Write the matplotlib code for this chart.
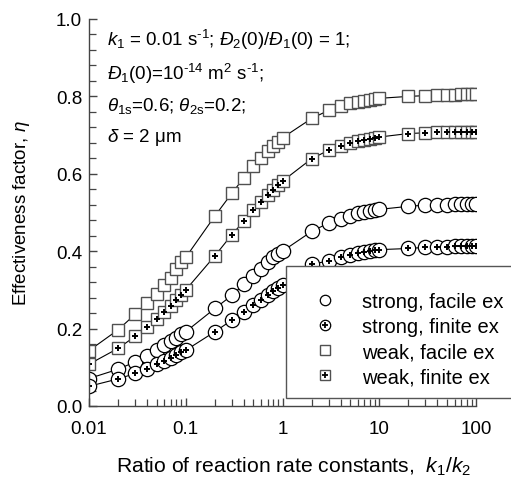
import matplotlib
matplotlib.use("Agg")
import matplotlib.pyplot as plt
from matplotlib.lines import Line2D
from matplotlib.patches import Rectangle
from matplotlib.ticker import MultipleLocator, NullFormatter, FormatStrFormatter

plt.rcParams['font.family'] = ['Liberation Sans', 'DejaVu Sans']
plt.rcParams['mathtext.fontset'] = 'custom'
plt.rcParams['mathtext.rm'] = 'Liberation Sans'
plt.rcParams['mathtext.it'] = 'Liberation Sans:italic'
plt.rcParams['mathtext.bf'] = 'Liberation Sans:bold'

# ratio k1/k2
ratio = [0.01, 0.02, 0.03, 0.04, 0.05, 0.06, 0.07, 0.08, 0.09,
         0.1, 0.2, 0.3, 0.4, 0.5, 0.6, 0.7, 0.8, 0.9,
         1, 2, 3, 4, 5, 6, 7, 8, 9,
         10, 20, 30, 40, 50, 60, 70, 80, 90, 100]

strong_facile = [0.071, 0.095, 0.114, 0.130, 0.145, 0.157, 0.168, 0.177, 0.185,
                 0.192, 0.252, 0.286, 0.315, 0.336, 0.355, 0.372, 0.385, 0.394,
                 0.400, 0.451, 0.473, 0.484, 0.492, 0.498, 0.502, 0.505, 0.507,
                 0.508, 0.516, 0.519, 0.520, 0.520, 0.521, 0.521, 0.521, 0.521,
                 0.521]

strong_finite = [0.051, 0.070, 0.084, 0.095, 0.108, 0.117, 0.125, 0.133, 0.139,
                 0.144, 0.192, 0.222, 0.244, 0.261, 0.275, 0.287, 0.297, 0.305,
                 0.312, 0.366, 0.375, 0.384, 0.391, 0.395, 0.399, 0.401, 0.403,
                 0.404, 0.407, 0.410, 0.411, 0.412, 0.413, 0.413, 0.414, 0.414,
                 0.414]

weak_facile = [0.143, 0.197, 0.237, 0.266, 0.289, 0.312, 0.332, 0.354, 0.371,
               0.384, 0.491, 0.550, 0.590, 0.620, 0.642, 0.659, 0.672, 0.683,
               0.693, 0.743, 0.764, 0.775, 0.782, 0.786, 0.789, 0.791, 0.793,
               0.795, 0.800, 0.802, 0.803, 0.804, 0.804, 0.805, 0.805, 0.805,
               0.805]

weak_finite = [0.108, 0.149, 0.180, 0.203, 0.225, 0.243, 0.258, 0.274, 0.288,
               0.300, 0.388, 0.443, 0.478, 0.507, 0.528, 0.545, 0.558, 0.570,
               0.581, 0.639, 0.661, 0.672, 0.679, 0.685, 0.688, 0.690, 0.692,
               0.695, 0.704, 0.706, 0.707, 0.707, 0.708, 0.708, 0.708, 0.708,
               0.708]

labels = ['strong, facile ex', 'strong, finite ex', 'weak, facile ex', 'weak, finite ex']

W, H = 511, 481
fig = plt.figure(figsize=(W / 100, H / 100), dpi=100)
L, R, B, T = 89, 476, 407, 20
ax = fig.add_axes([L / W, 1 - B / H, (R - L) / W, (B - T) / H])

sq_edge = '#505050'
lw = 0.8

ax.plot(ratio, weak_facile, color='black', lw=lw, marker='s', ms=9.2,
        mfc='white', mec=sq_edge, mew=1.0)
ax.plot(ratio, weak_finite, color='black', lw=lw, marker='s', ms=9.2,
        mfc='white', mec=sq_edge, mew=1.0)
ax.plot(ratio, weak_finite, ls='none', marker='+', ms=4.5, mec='black', mew=1.4)
ax.plot(ratio, strong_facile, color='black', lw=lw, marker='o', ms=10.3,
        mfc='white', mec='black', mew=0.9)
ax.plot(ratio, strong_finite, color='black', lw=lw, marker='o', ms=10.3,
        mfc='white', mec='black', mew=0.9)
ax.plot(ratio, strong_finite, ls='none', marker='+', ms=4.5, mec='black', mew=1.4)

ax.set_xscale('log')
ax.set_xlim(0.01, 100)
ax.set_ylim(0, 1.0)
ax.set_xticks([0.01, 0.1, 1, 10, 100])
ax.set_xticklabels(['0.01', '0.1', '1', '10', '100'])
ax.xaxis.set_minor_formatter(NullFormatter())
ax.yaxis.set_major_locator(MultipleLocator(0.2))
ax.yaxis.set_minor_locator(MultipleLocator(0.04))
ax.yaxis.set_major_formatter(FormatStrFormatter('%.1f'))

for s in ['top', 'right']:
    ax.spines[s].set_visible(False)
for s in ['left', 'bottom']:
    ax.spines[s].set_color('#444444')
    ax.spines[s].set_linewidth(1.0)

ax.tick_params(which='both', direction='in', color='#444444', labelsize=13.5)
ax.tick_params(which='major', length=6, width=1.0)
ax.tick_params(which='minor', length=5, width=0.9)
ax.tick_params(axis='x', pad=10)
ax.tick_params(axis='y', pad=5)

ax.set_xlabel('Ratio of reaction rate constants,  $k_1/k_2$', fontsize=15.2)
ax.xaxis.set_label_coords(0.53, -0.125)
ax.set_ylabel(r'Effectiveness factor, $\eta$', fontsize=13.5, labelpad=17)

def ay(py):
    return (B - py) / (B - T)

tx = (107 - L) / (R - L)
ax.text(tx, ay(40), r'$k_1$ = 0.01 s$^{\text{-}1}$; $Đ_2$(0)/$Đ_1$(0) = 1;',
        transform=ax.transAxes, va='center', ha='left', fontsize=13.5)
ax.text(tx, ay(74), r'$Đ_1$(0)=10$^{\text{-}14}$ m$^2$ s$^{\text{-}1}$;',
        transform=ax.transAxes, va='center', ha='left', fontsize=13.5)
ax.text(tx, ay(106), r'$\theta_{\mathrm{1s}}$=0.6; $\theta_{\mathrm{2s}}$=0.2;',
        transform=ax.transAxes, va='center', ha='left', fontsize=13.5)
ax.text(tx, ay(137), r'$\delta$ = 2 μm',
        transform=ax.transAxes, va='center', ha='left', fontsize=13.5)

# legend box extends past the figure edge
box = Rectangle((286 / W, 1 - 398.5 / H), (530 - 286) / W, (398.5 - 266.5) / H,
                transform=fig.transFigure, facecolor='white', edgecolor='#555555',
                lw=1.0, zorder=5)
fig.patches.append(box)

handles = [
    Line2D([], [], ls='none', marker='o', ms=7.5, mfc='white', mec='black', mew=0.9),
    (Line2D([], [], ls='none', marker='o', ms=7.5, mfc='white', mec='black', mew=0.9),
     Line2D([], [], ls='none', marker='+', ms=4, mec='black', mew=1.3)),
    Line2D([], [], ls='none', marker='s', ms=7.2, mfc='white', mec=sq_edge, mew=1.0),
    (Line2D([], [], ls='none', marker='s', ms=7.2, mfc='white', mec=sq_edge, mew=1.0),
     Line2D([], [], ls='none', marker='+', ms=4, mec='black', mew=1.3)),
]
leg = fig.legend(handles, labels, loc='upper left',
                 bbox_to_anchor=(300 / W, 1 - 283 / H), frameon=False,
                 fontsize=14.5, handlelength=1.5, handletextpad=1.1,
                 labelspacing=0.3, borderpad=0)
leg.set_zorder(6)

fig.savefig('out.png', dpi=100)
